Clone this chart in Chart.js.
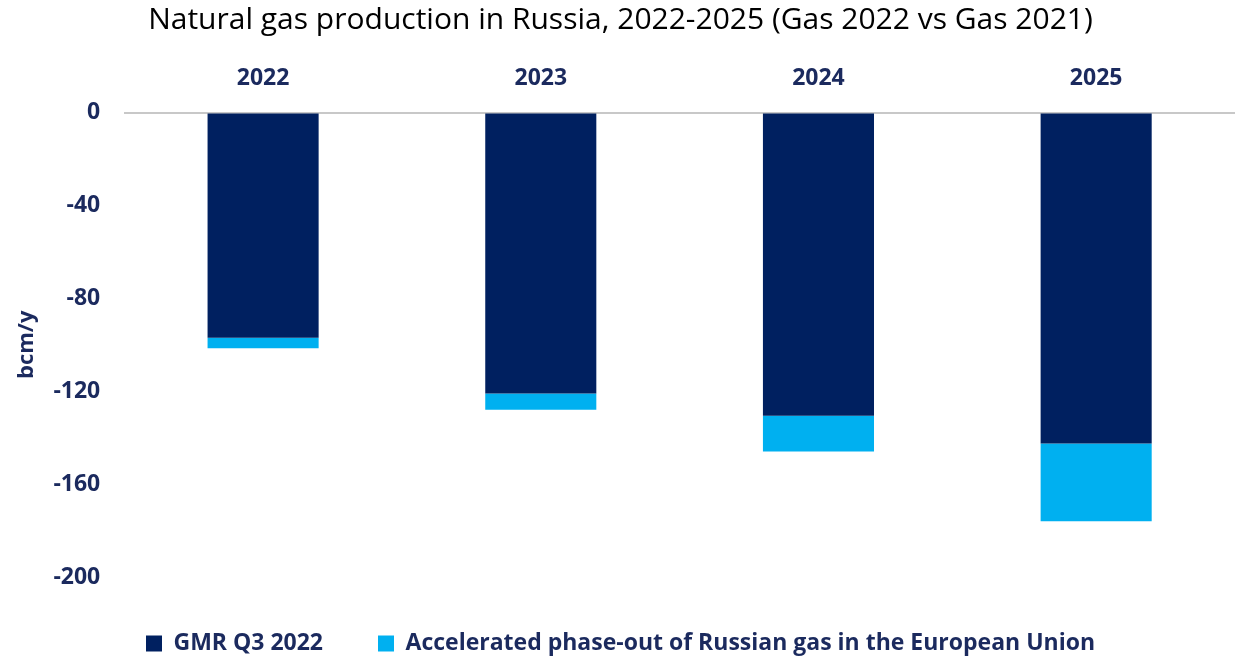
<!DOCTYPE html>
<html>
<head>
<meta charset="utf-8">
<script src="https://cdn.jsdelivr.net/npm/chart.js@4"></script>
<style>
    html, body { margin: 0; padding: 0; background: #fff; }
    #wrap { width: 1235px; height: 656px; }
</style>
</head>
<body>
<div id="wrap"><canvas id="gasChart"></canvas></div>
<script>
const years = ["2022", "2023", "2024", "2025"];
const gmrQ3 = [-97, -121, -130.6, -142.5];
const phaseOut = [-4.5, -7, -15.4, -33.5];
const yTicks = [0, -40, -80, -120, -160, -200];

const navy = "#1b2a5e";

const ctx = document.getElementById("gasChart").getContext("2d");

new Chart(ctx, {
    type: "bar",
    data: {
        labels: years,
        datasets: [
            {
                label: "GMR Q3 2022",
                data: gmrQ3,
                backgroundColor: "#002060",
                borderWidth: 0
            },
            {
                label: "Accelerated phase-out of Russian gas in the European Union",
                data: phaseOut,
                backgroundColor: "#00B0F0",
                borderWidth: 0
            }
        ]
    },
    options: {
        responsive: true,
        maintainAspectRatio: false,
        animation: false,
        barPercentage: 0.8,
        categoryPercentage: 0.5,
        layout: { padding: { left: 0, right: -6, top: 0, bottom: -9 } },
        plugins: {
            title: {
                display: true,
                text: "Natural gas production in Russia, 2022-2025 (Gas 2022 vs Gas 2021)",
                color: "#000",
                font: { family: "Open Sans", size: 30, weight: "normal" },
                padding: { top: 2, bottom: 15 }
            },
            legend: {
                position: "bottom",
                labels: {
                    color: navy,
                    font: { family: "Open Sans", size: 23, weight: "bold" },
                    boxWidth: 16,
                    boxHeight: 16,
                    padding: 55
                }
            },
            tooltip: { enabled: false }
        },
        scales: {
            x: {
                position: "top",
                stacked: true,
                grid: { display: false },
                border: { display: false },
                ticks: {
                    color: navy,
                    font: { family: "Open Sans", size: 23, weight: "bold" },
                    padding: 12
                }
            },
            y: {
                stacked: true,
                min: -200,
                max: 0,
                afterBuildTicks: axis => {
                    axis.ticks = yTicks.map(v => ({ value: v }));
                },
                grid: {
                    drawTicks: false,
                    lineWidth: 2,
                    color: c => (c.tick && c.tick.value === 0 ? "#c8c8c8" : "rgba(0,0,0,0)")
                },
                border: { display: false },
                title: {
                    display: true,
                    text: "bcm/y",
                    color: navy,
                    font: { family: "Open Sans", size: 22, weight: "bold" },
                    padding: { top: 14, bottom: -11 }
                },
                ticks: {
                    color: navy,
                    font: { family: "Open Sans", size: 23, weight: "bold" },
                    padding: 24
                }
            }
        }
    }
});
</script>
</body>
</html>
